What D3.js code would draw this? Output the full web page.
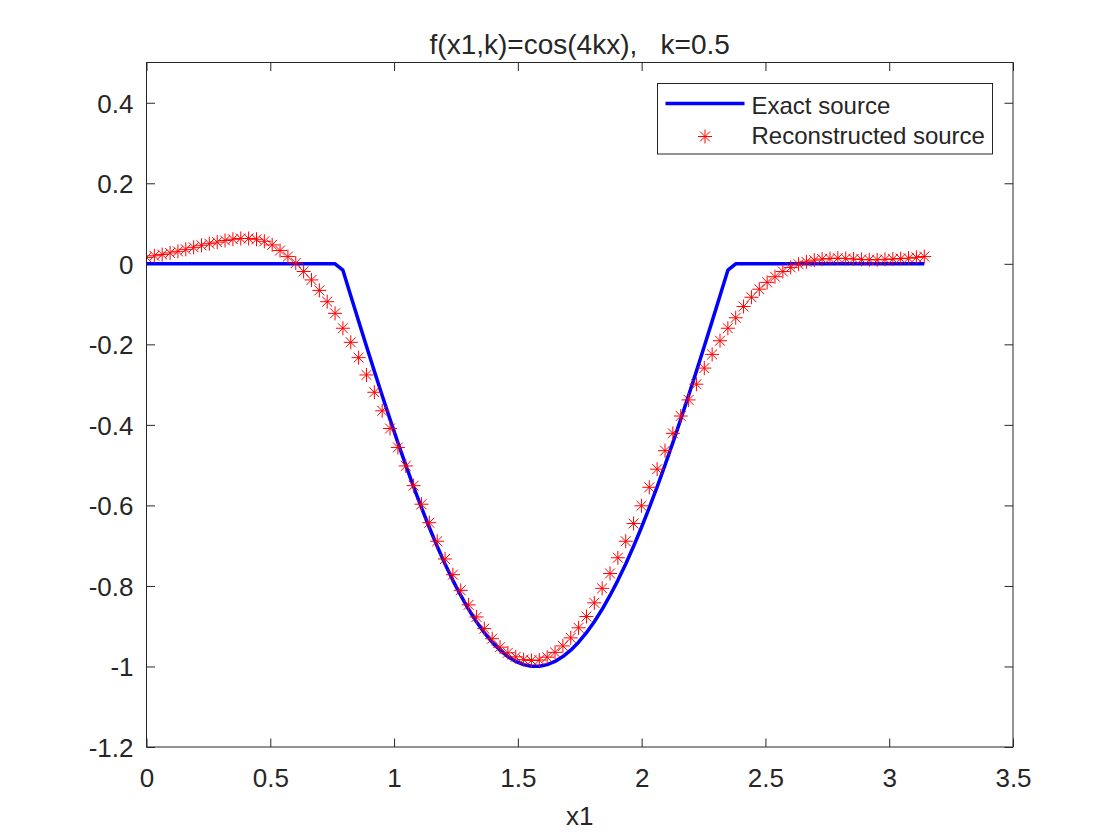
<!DOCTYPE html>
<meta charset="utf-8">
<script src="https://d3js.org/d3.v7.min.js"></script>
<style>
  body { margin: 0; background: #fff; }
  text { font-family: "Liberation Sans", Arial, sans-serif; fill: #262626; }
</style>
<body>
<div id="my_dataviz"></div>
<script>
// sample grid: 100 evenly spaced points from 0 to pi
var nPts = 100;
var xs = d3.range(nPts).map(function(i) { return i * Math.PI / (nPts - 1); });

// exact source values
var exactVals = [
  0,0,0,0,0,0,0,0,0,0,
  0,0,0,0,0,0,0,0,0,0,
  0,0,0,0,0,-0.0159,-0.0792,-0.1423,-0.2048,-0.2665,
  -0.3271,-0.3863,-0.4441,-0.5000,-0.5539,-0.6056,-0.6549,-0.7015,-0.7453,-0.7861,
  -0.8237,-0.8580,-0.8888,-0.9161,-0.9397,-0.9595,-0.9754,-0.9874,-0.9955,-0.9995,
  -0.9995,-0.9955,-0.9874,-0.9754,-0.9595,-0.9397,-0.9161,-0.8888,-0.8580,-0.8237,
  -0.7861,-0.7453,-0.7015,-0.6549,-0.6056,-0.5539,-0.5000,-0.4441,-0.3863,-0.3271,
  -0.2665,-0.2048,-0.1423,-0.0792,-0.0159,0,0,0,0,0,
  0,0,0,0,0,0,0,0,0,0,
  0,0,0,0,0,0,0,0,0,0
];

// reconstructed source values
var reconVals = [
  0.016,0.020,0.023,0.027,0.031,0.036,0.041,0.046,0.050,0.054,
  0.058,0.061,0.063,0.063,0.061,0.056,0.047,0.033,0.018,0.002,
  -0.019,-0.040,-0.066,-0.094,-0.123,-0.160,-0.195,-0.233,-0.276,-0.319,
  -0.365,-0.409,-0.456,-0.502,-0.551,-0.597,-0.643,-0.689,-0.733,-0.772,
  -0.811,-0.847,-0.877,-0.906,-0.931,-0.952,-0.966,-0.976,-0.983,-0.985,
  -0.984,-0.977,-0.965,-0.949,-0.929,-0.904,-0.876,-0.842,-0.806,-0.769,
  -0.730,-0.689,-0.645,-0.601,-0.555,-0.510,-0.464,-0.421,-0.378,-0.338,
  -0.299,-0.259,-0.225,-0.191,-0.160,-0.134,-0.106,-0.083,-0.063,-0.046,
  -0.032,-0.019,-0.009,-0.001,0.005,0.009,0.012,0.013,0.014,0.013,
  0.012,0.011,0.010,0.010,0.011,0.012,0.013,0.014,0.016,0.018
];

var xTicks = [0, 0.5, 1, 1.5, 2, 2.5, 3, 3.5];
var yTicks = [-1.2, -1, -0.8, -0.6, -0.4, -0.2, 0, 0.2, 0.4];
var titleText = "f(x1,k)=cos(4kx),   k=0.5";
var legendNames = ["Exact source", "Reconstructed source"];

// figure and axes box (MATLAB default position)
var W = 1120, H = 840;
var margin = {top: 62.5, right: 107, bottom: 93, left: 146.5},
    width = W - margin.left - margin.right,
    height = H - margin.top - margin.bottom;

var svg = d3.select("#my_dataviz")
  .append("svg")
    .attr("width", W)
    .attr("height", H)
  .append("g")
    .attr("transform", "translate(" + margin.left + "," + margin.top + ")");

var x = d3.scaleLinear().domain([0, 3.5]).range([0, width]);
var y = d3.scaleLinear().domain([-1.2, 0.5]).range([height, 0]);

var axisColor = "#262626";
var tickLen = 8.5;

// X axis (bottom) and top ticks
var xAxis = svg.append("g")
  .attr("transform", "translate(0," + height + ")")
  .call(d3.axisBottom(x).tickValues(xTicks).tickSizeInner(-tickLen).tickSizeOuter(0).tickPadding(0)
    .tickFormat(function(d) { return d3.format("")(d); }));
xAxis.selectAll("text").attr("y", 39.5).attr("dy", null).style("font-size", "26px");

var xTop = svg.append("g")
  .call(d3.axisTop(x).tickValues(xTicks).tickSizeInner(-tickLen).tickSizeOuter(0).tickFormat(""));

// Y axis (left) and right ticks
var yAxis = svg.append("g")
  .call(d3.axisLeft(y).tickValues(yTicks).tickSizeInner(-tickLen).tickSizeOuter(0).tickPadding(0)
    .tickFormat(function(d) { return d3.format("")(d).replace("−", "-"); }));
yAxis.selectAll("text").attr("x", -13).attr("dy", "0.36em").style("font-size", "26px");

var yRight = svg.append("g")
  .attr("transform", "translate(" + width + ",0)")
  .call(d3.axisRight(y).tickValues(yTicks).tickSizeInner(-tickLen).tickSizeOuter(0).tickFormat(""));

[xAxis, xTop, yAxis, yRight].forEach(function(g) {
  g.select(".domain").remove();
  g.selectAll("line").attr("stroke", axisColor);
  g.selectAll("text").attr("fill", axisColor).style("font-family", "'Liberation Sans', Arial, sans-serif");
});

// clip to axes box
svg.append("clipPath").attr("id", "clip")
  .append("rect").attr("width", width).attr("height", height);

var plot = svg.append("g").attr("clip-path", "url(#clip)");

// exact source line
plot.append("path")
  .datum(xs.map(function(d, i) { return [d, exactVals[i]]; }))
  .attr("fill", "none")
  .attr("stroke", "#0000ff")
  .attr("stroke-width", 3.5)
  .attr("stroke-linejoin", "round")
  .attr("d", d3.line()
    .x(function(d) { return x(d[0]); })
    .y(function(d) { return y(d[1]); }));

// asterisk marker path
function asterisk(r) {
  var d = r * Math.SQRT1_2;
  return "M" + (-r) + ",0L" + r + ",0M0," + (-r) + "L0," + r +
         "M" + (-d) + "," + (-d) + "L" + d + "," + d +
         "M" + (-d) + "," + d + "L" + d + "," + (-d);
}

plot.selectAll(".recon")
  .data(xs.map(function(d, i) { return [d, reconVals[i]]; }))
  .enter()
  .append("path")
    .attr("class", "recon")
    .attr("transform", function(d) { return "translate(" + x(d[0]) + "," + y(d[1]) + ")"; })
    .attr("d", asterisk(7))
    .attr("fill", "none")
    .attr("stroke", "#ff0000")
    .attr("stroke-width", 1);

// axes box
svg.append("rect")
  .attr("width", width)
  .attr("height", height)
  .attr("fill", "none")
  .attr("stroke", axisColor)
  .attr("stroke-width", 1);

// title
svg.append("text")
  .attr("x", width / 2)
  .attr("y", -9)
  .attr("text-anchor", "middle")
  .style("font-size", "28px")
  .style("white-space", "pre")
  .text(titleText);

// x label
svg.append("text")
  .attr("x", width / 2)
  .attr("y", height + 77.5)
  .attr("text-anchor", "middle")
  .style("font-size", "26px")
  .text("x1");

// legend
var leg = svg.append("g").attr("transform", "translate(" + (657.5 - margin.left) + "," + (83.5 - margin.top) + ")");
leg.append("rect")
  .attr("width", 335)
  .attr("height", 70.5)
  .attr("fill", "#fff")
  .attr("stroke", axisColor)
  .attr("stroke-width", 1);
leg.append("line")
  .attr("x1", 8).attr("x2", 87)
  .attr("y1", 20).attr("y2", 20)
  .attr("stroke", "#0000ff")
  .attr("stroke-width", 3.5);
leg.append("path")
  .attr("transform", "translate(47.5,53)")
  .attr("d", asterisk(7))
  .attr("fill", "none")
  .attr("stroke", "#ff0000")
  .attr("stroke-width", 1);
leg.selectAll(".legtext")
  .data(legendNames)
  .enter()
  .append("text")
    .attr("x", 94)
    .attr("y", function(d, i) { return 30.5 + i * 30; })
    .style("font-size", "24px")
    .text(function(d) { return d; });
</script>
</body>
